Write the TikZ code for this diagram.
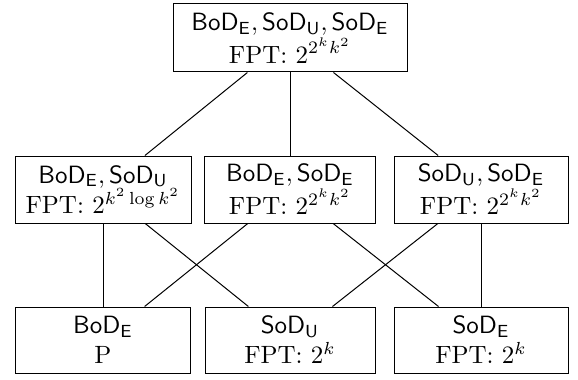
\documentclass[tikz,border=0pt]{standalone}
\newcommand{\bod}{\mathsf{BoD}_{\mathsf{E}}}
\newcommand{\sodu}{\mathsf{SoD}_{\mathsf{U}}}
\newcommand{\sode}{\mathsf{SoD}_{\mathsf{E}}}
\begin{document}
\begin{tikzpicture}[x=0.40pt,y=-0.40pt,
  box/.style={draw, align=center, inner sep=0pt, line width=0.4pt},
  sz/.style 2 args={minimum width=#1*0.40pt, minimum height=#2*0.40pt},
  link/.style={line width=0.4pt}]
\useasboundingbox (0,0) rectangle (578,379);
\node[box, sz={234}{68}] (top) at (290,38)
  {$\bod, \sodu, \sode$\\FPT: $2^{2^k k^2}$};
\node[box, sz={176}{67}] (ml) at (103,189.5)
  {$\bod, \sodu$\\FPT: $2^{k^2\log k^2}$};
\node[box, sz={171}{67}] (mm) at (290,189.5)
  {$\bod, \sode$\\FPT: $2^{2^k k^2}$};
\node[box, sz={174}{67}] (mr) at (481,189.5)
  {$\sodu, \sode$\\FPT: $2^{2^k k^2}$};
\node[box, sz={175}{66}] (bl) at (103,340)
  {$\bod$\\P};
\node[box, sz={170}{66}] (bm) at (290,340)
  {$\sodu$\\FPT: $2^k$};
\node[box, sz={174}{66}] (br) at (481,340)
  {$\sode$\\FPT: $2^k$};
\draw[link] (top) -- (ml);
\draw[link] (top) -- (mm);
\draw[link] (top) -- (mr);
\draw[link] (ml) -- (bl);
\draw[link] (ml) -- (bm);
\draw[link] (mm) -- (bl);
\draw[link] (mm) -- (br);
\draw[link] (mr) -- (bm);
\draw[link] (mr) -- (br);
\end{tikzpicture}
\end{document}
